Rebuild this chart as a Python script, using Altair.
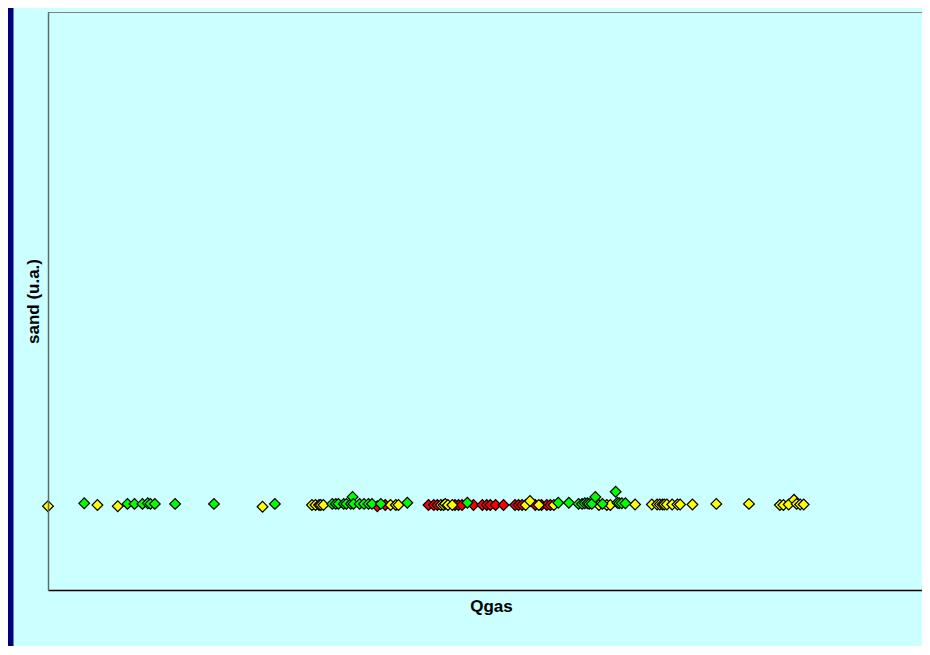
import altair as alt
import pandas as pd

# Qgas values (0-100 scale of the x axis) and sand values (0-1 scale of the y axis)
yellow_x = [0.0, 5.6, 7.9, 24.3, 29.9, 30.3, 30.7, 30.9, 31.2, 38.8, 39.4, 39.7,
            44.5, 44.8, 45.0, 45.3, 45.8, 54.1, 54.6, 55.6, 57.3, 62.4, 63.3, 63.7,
            66.5, 68.4, 69.0, 69.3, 69.6, 69.8, 70.1, 70.7, 71.3, 71.6, 73.0, 75.7,
            79.4, 82.9, 83.3, 83.9, 84.5, 84.8, 85.2, 85.6]
yellow_y = [0.145, 0.147, 0.145, 0.144, 0.147, 0.147, 0.147, 0.147, 0.147, 0.147, 0.147, 0.147,
            0.147, 0.147, 0.149, 0.147, 0.147, 0.147, 0.154, 0.147, 0.147, 0.147, 0.147, 0.147,
            0.148, 0.148, 0.148, 0.148, 0.148, 0.148, 0.148, 0.148, 0.148, 0.148, 0.148, 0.149,
            0.149, 0.147, 0.147, 0.148, 0.156, 0.149, 0.148, 0.148]

green_x = [4.1, 9.0, 9.8, 10.7, 11.3, 11.6, 12.1, 14.4, 18.8, 25.7, 32.2, 32.6, 32.9,
           33.5, 33.8, 34.3, 34.5, 34.6, 35.3, 35.8, 36.3, 36.7, 37.7, 40.7, 47.5,
           57.8, 59.0, 60.1, 60.5, 60.8, 61.1, 61.3, 61.6, 62.0, 62.8, 64.3, 64.5,
           64.7, 65.0, 65.4]
green_y = [0.150, 0.149, 0.149, 0.149, 0.150, 0.149, 0.149, 0.149, 0.149, 0.149, 0.149, 0.149, 0.149,
           0.149, 0.149, 0.149, 0.161, 0.149, 0.149, 0.149, 0.149, 0.149, 0.149, 0.151, 0.151,
           0.151, 0.151, 0.149, 0.149, 0.150, 0.150, 0.149, 0.149, 0.161, 0.149, 0.170, 0.151,
           0.150, 0.150, 0.150]

red_x = [37.3, 38.2, 43.1, 43.7, 44.1, 46.1, 46.5, 46.9, 48.2, 49.2, 49.7, 50.1, 50.7,
         51.6, 52.9, 53.3, 53.7, 55.2, 55.9, 56.5, 56.9]
red_y = [0.145, 0.147, 0.147, 0.147, 0.147, 0.147, 0.147, 0.147, 0.147, 0.147, 0.147, 0.147, 0.147,
         0.147, 0.147, 0.147, 0.147, 0.147, 0.147, 0.147, 0.147]

rows = []
for xs, ys, grp, order in [(red_x, red_y, "red", 0), (yellow_x, yellow_y, "yellow", 1),
                           (green_x, green_y, "green", 2)]:
    for x, y in zip(xs, ys):
        rows.append({"Qgas": x, "sand": y, "group": grp, "o": order})
df = pd.DataFrame(rows)

FONT = "Liberation Sans"
NAVY = "#000080"
CYAN = "#CCFFFF"
W, H = 874, 578

points = alt.Chart(df).mark_point(
    shape="diamond", filled=True, size=115, stroke="black", strokeWidth=1.2, opacity=1
).encode(
    x=alt.X("Qgas:Q", scale=alt.Scale(domain=[0, 99], nice=False, zero=False),
            axis=alt.Axis(title="Qgas", labels=False, ticks=False, grid=False,
                          domainColor="#000000", domainWidth=1.5, titleFont=FONT,
                          titleFontSize=17, titleFontWeight="bold", titleColor="black",
                          titlePadding=8, titleX=443, zindex=1)),
    y=alt.Y("sand:Q", scale=alt.Scale(domain=[0, 1], nice=False, zero=False),
            axis=alt.Axis(title="sand (u.a.)", labels=False, ticks=False, grid=False,
                          domainColor="#5f6b6b", domainWidth=1.5, titleFont=FONT,
                          titleFontSize=17, titleFontWeight="bold", titleColor="black",
                          titlePadding=6, zindex=1)),
    fill=alt.Color("group:N", scale=alt.Scale(domain=["red", "yellow", "green"],
                                              range=["#FF0000", "#FFFF00", "#00FF00"]),
                   legend=None),
    order=alt.Order("o:Q"),
)

strip = alt.Chart(pd.DataFrame({"a": [0]})).mark_rect(color=NAVY).encode(
    x=alt.value(-40), x2=alt.value(-34.5), y=alt.value(-5), y2=alt.value(650)
)

top_border = alt.Chart(pd.DataFrame({"a": [0]})).mark_rule(
    color="#808080", strokeWidth=1
).encode(x=alt.value(0), x2=alt.value(W), y=alt.value(0.5))

chart = alt.layer(strip, top_border, points).properties(
    width=W, height=H,
    background=CYAN,
    padding={"left": 40, "top": 4, "right": 0, "bottom": 56},
    autosize=alt.AutoSizeParams(type="none"),
).configure_view(strokeWidth=0, fill=CYAN)

chart.save("out.html", embed_options={"renderer": "svg", "actions": False})
